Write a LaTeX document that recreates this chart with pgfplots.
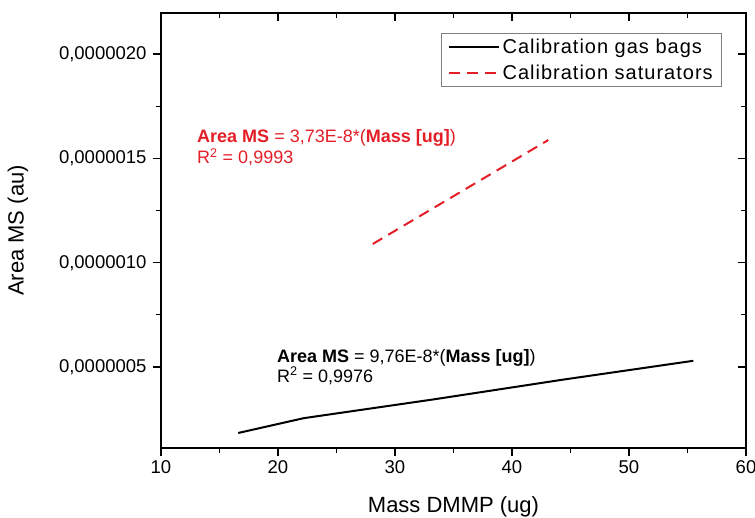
\documentclass[border=0pt]{standalone}
\usepackage{pgfplots}
\pgfplotsset{compat=1.18}
\usepackage{fontspec}
\setmainfont{Liberation Sans}
\newfontfamily\legendfont[LetterSpace=5]{Liberation Sans}
\definecolor{calred}{RGB}{228,30,38}

\begin{document}
\begin{tikzpicture}
\pgfplotsset{
  calframe/.style={
    scale only axis, width=585pt, height=435pt,
    xmin=10, xmax=60, ymin=0.112, ymax=2.197,
    xtick={10,20,30,40,50,60}, ytick={0.5,1,1.5,2},
    minor x tick num=1, minor y tick num=1,
    axis line style={line width=1.3pt},
    every tick/.style={line width=1.2pt, black},
    major tick length=8pt, minor tick length=5pt,
  }
}
% frame with ticks pointing inward on the top and right sides
\begin{axis}[calframe, at={(0,0)}, anchor=south west,
  xtick pos=right, ytick pos=right, tick align=inside,
  xticklabels={}, yticklabels={}]
\end{axis}
% main axis: data, labels and outward ticks on bottom and left
\begin{axis}[calframe, at={(0,0)}, anchor=south west,
  xtick pos=left, ytick pos=left, tick align=outside,
  xticklabels={10,20,30,40,50,60},
  yticklabels={0{,}0000005,0{,}0000010,0{,}0000015,0{,}0000020},
  ticklabel style={font=\fontsize{18.5}{22}\selectfont},
  xticklabel style={yshift=-1pt},
  yticklabel style={xshift=-3pt},
  xlabel={Mass DMMP (ug)},
  ylabel={Area MS (au)},
  label style={font=\fontsize{22}{26}\selectfont},
  xlabel style={at={(axis description cs:0.5,0)}, anchor=base, yshift=-64pt},
  ylabel style={at={(axis description cs:-0.2444,0.5)}, anchor=center},
  legend style={at={(axis description cs:0.959,0.954)}, anchor=north east,
    draw=gray, line width=0.6pt, font=\legendfont\fontsize{20}{24}\selectfont,
    inner xsep=6pt, inner ysep=2.5pt, row sep=4pt,
    nodes={inner sep=3pt}},
  legend cell align=left,
  legend image code/.code={\draw[#1] (0pt,0pt) -- (50pt,0pt);},
]
\addplot[black, line width=2pt] coordinates {
  (16.6,0.184) (22.2,0.255) (33.3,0.345) (44.4,0.440) (55.5,0.530)
};
\addlegendentry{Calibration gas bags}
\addplot[calred, line width=2pt, dash pattern=on 11pt off 7pt] coordinates {
  (28.1,1.090) (43.1,1.588)
};
\addlegendentry{Calibration saturators}

\node[anchor=base west, text=calred, font=\fontsize{18}{21}\selectfont, inner sep=0pt]
  at (axis cs:13.08,1.577) {\textbf{Area MS} = 3,73E-8*(\textbf{Mass [ug]})};
\node[anchor=base west, text=calred, font=\fontsize{18}{21}\selectfont, inner sep=0pt]
  at (axis cs:13.08,1.476) {R\textsuperscript{2} = 0,9993};
\node[anchor=base west, text=black, font=\fontsize{18}{21}\selectfont, inner sep=0pt]
  at (axis cs:19.9,0.524) {\textbf{Area MS} = 9,76E-8*(\textbf{Mass [ug]})};
\node[anchor=base west, text=black, font=\fontsize{18}{21}\selectfont, inner sep=0pt]
  at (axis cs:19.9,0.428) {R\textsuperscript{2} = 0,9976};
\end{axis}
\pgfresetboundingbox
\path[use as bounding box] (-161pt,-69pt) rectangle (594pt,448pt);
\end{tikzpicture}
\end{document}
